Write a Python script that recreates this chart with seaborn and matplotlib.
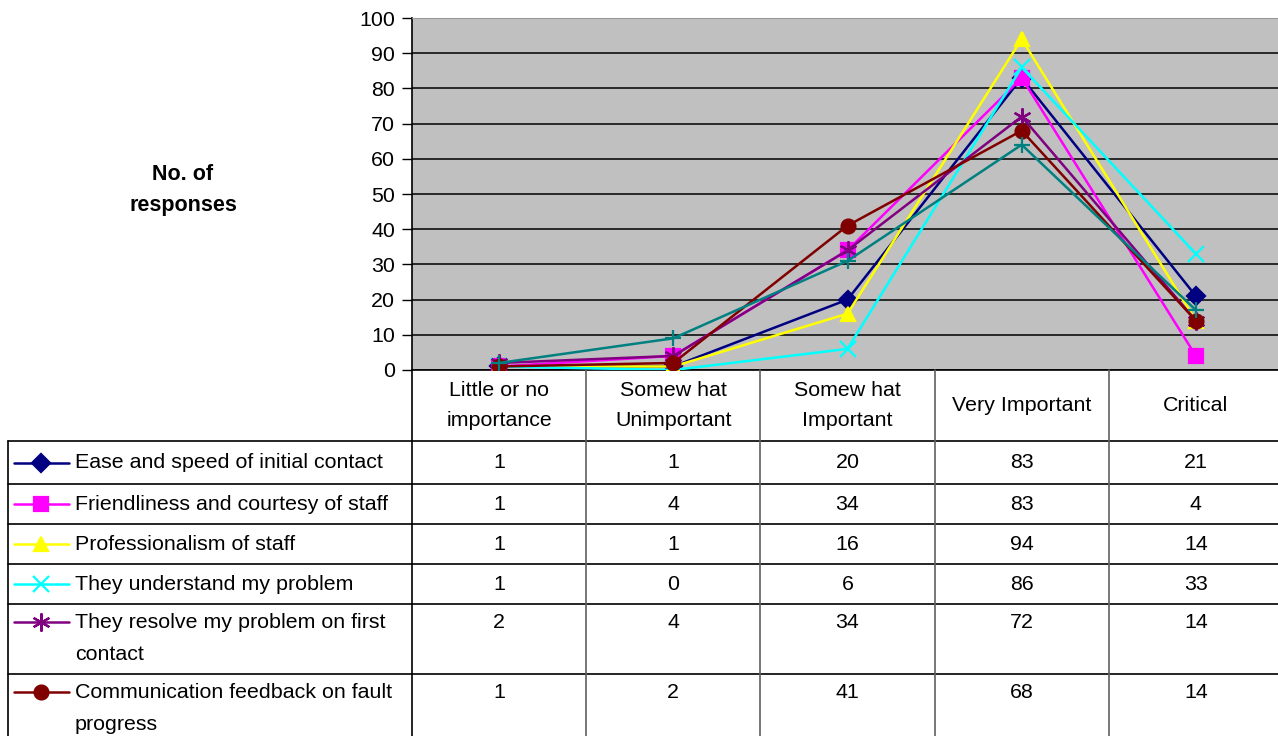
import numpy as np
import pandas as pd
import seaborn as sns
import matplotlib.pyplot as plt
from matplotlib.lines import Line2D

# ---- data ----
categories = ["Little or no\nimportance", "Somew hat\nUnimportant", "Somew hat\nImportant",
              "Very Important", "Critical"]
series_names = ["Ease and speed of initial contact",
                "Friendliness and courtesy of staff",
                "Professionalism of staff",
                "They understand my problem",
                "They resolve my problem on first\ncontact",
                "Communication feedback on fault\nprogress"]
ease = [1, 1, 20, 83, 21]
friendly = [1, 4, 34, 83, 4]
profess = [1, 1, 16, 94, 14]
understand = [1, 0, 6, 86, 33]
resolve = [2, 4, 34, 72, 14]
feedback = [1, 2, 41, 68, 14]
# seventh series, its table row is cut off below the picture
seventh = [2, 9, 31, 64, 17]

values = [ease, friendly, profess, understand, resolve, feedback, seventh]
colors = ["#000080", "#FF00FF", "#FFFF00", "#00FFFF", "#800080", "#800000", "#008080"]
markers = ["D", "s", "^", "x", (6, 2, 0), "o", "+"]
msizes = [9, 10, 10, 11, 13, 10, 12]

W, H = 1278, 736
sns.set_style("white")
plt.rcParams['font.family'] = ['Liberation Sans', 'DejaVu Sans']
plt.rcParams['text.color'] = 'black'
plt.rcParams['axes.labelcolor'] = 'black'
plt.rcParams['ytick.color'] = 'black'
plt.rcParams['xtick.color'] = 'black'
fs = 15.4

fig = plt.figure(figsize=(W / 100, H / 100), dpi=100)

def fx(px):
    return px / W

def fy(py):
    return 1 - py / H

# column edges of the plot/table, pixels
col_left, col_w = 412, 174.2
top, zero = 18, 370

ax = fig.add_axes([fx(col_left), fy(zero), fx(col_w * 5), (zero - top) / H])
ax.set_facecolor("#C0C0C0")

x = np.arange(len(categories))
for vals, c, m, ms in zip(values, colors, markers, msizes):
    df = pd.DataFrame({"x": x, "y": vals})
    sns.lineplot(data=df, x="x", y="y", ax=ax, color=c, marker=m, markersize=ms,
                 markeredgecolor=c, markerfacecolor=c, markeredgewidth=1.6,
                 linewidth=1.8, zorder=3)

ax.set_xlim(-0.5, 4.5)
ax.set_ylim(0, 100)
ax.set_yticks(range(0, 101, 10))
ax.set_xticks([])
ax.set_xlabel("")
ax.set_ylabel("")
ax.grid(axis="y", color="black", linewidth=1.1)
ax.set_axisbelow(True)
ax.tick_params(axis="y", direction="out", length=7, width=1, color="black",
               labelcolor="black", labelsize=fs, pad=5, left=True)
for s in ["left", "bottom"]:
    ax.spines[s].set_color("black")
    ax.spines[s].set_linewidth(1.2)
ax.spines["top"].set_color("#9a9a9a")
ax.spines["right"].set_visible(False)

fig.text(fx(183), fy(175), "No. of", ha="center", va="center", fontsize=15.5,
         fontweight="bold")
fig.text(fx(183), fy(206), "responses", ha="center", va="center", fontsize=15.5,
         fontweight="bold")

# ---- data table ----
row_edges = [441, 484, 524, 564, 604, 674, 744]
line_gap = 32

def hline(y, x0, x1, color="black", lw=1.2):
    fig.add_artist(Line2D([fx(x0), fx(x1)], [fy(y), fy(y)], color=color, lw=lw))

def vline(xp, y0, y1, color="#707070", lw=1.2):
    fig.add_artist(Line2D([fx(xp), fx(xp)], [fy(y0), fy(y1)], color=color, lw=lw))

right = col_left + 5 * col_w
for y in row_edges[:-1]:
    hline(y, 8, right)
vline(8, 441, H + 5, color="black")
for i in range(6):
    vline(col_left + i * col_w, zero, H + 5, color="#606060" if i else "black")

# header
hdr_mid = (zero + row_edges[0]) / 2
for i, cat in enumerate(categories):
    lines = cat.split("\n")
    cx = col_left + (i + 0.5) * col_w
    start = hdr_mid - (len(lines) - 1) * 31 / 2
    for k, ln in enumerate(lines):
        fig.text(fx(cx), fy(start + k * 31), ln, ha="center", va="center", fontsize=fs)

# rows
for r, (name, vals) in enumerate(zip(series_names, values[:6])):
    rt, rb = row_edges[r], row_edges[r + 1]
    first = (rt + rb) / 2 if "\n" not in name else rt + 18
    # legend key
    fig.add_artist(Line2D([fx(14), fx(69)], [fy(first), fy(first)], color=colors[r], lw=1.8))
    fig.add_artist(Line2D([fx(41)], [fy(first)], color=colors[r], marker=markers[r],
                          markersize=msizes[r], markeredgecolor=colors[r],
                          markerfacecolor=colors[r], markeredgewidth=1.6))
    for k, ln in enumerate(name.split("\n")):
        fig.text(fx(75), fy(first + k * line_gap), ln, ha="left", va="center", fontsize=fs)
    for i, v in enumerate(vals):
        fig.text(fx(col_left + (i + 0.5) * col_w), fy(first), str(v), ha="center",
                 va="center", fontsize=fs)

fig.savefig("out.png", dpi=100)
